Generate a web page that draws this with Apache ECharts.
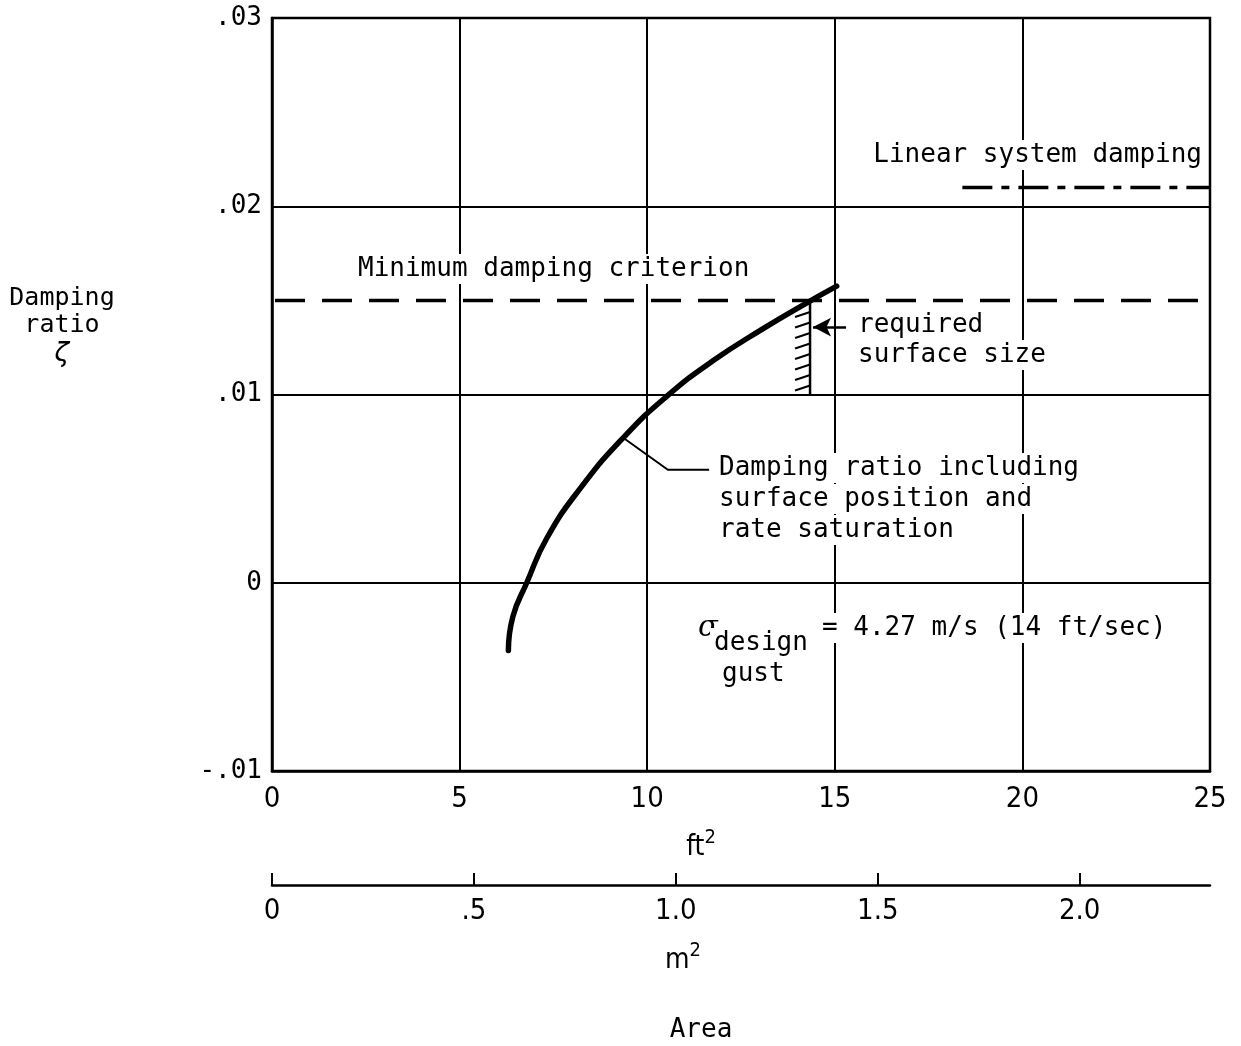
<!DOCTYPE html>
<html>
<head>
<meta charset="utf-8">
<script src="https://cdn.jsdelivr.net/npm/echarts@6/dist/echarts.min.js"></script>
<style>
  html, body { margin: 0; padding: 0; background: #fff; }
  #chart { width: 1241px; height: 1046px; }
</style>
</head>
<body>
<div id="chart"></div>
<script>
// curve (ft^2, damping ratio)
const curveX = [6.30, 6.42, 6.79, 7.32, 8.21, 9.36, 10.52, 11.76, 13.09, 14.21, 15.05]
const curveY = [-0.0036, -0.0018, 0.0, 0.00235, 0.0050, 0.0077, 0.0099, 0.0118, 0.0135, 0.01482, 0.01576]

const minDamping = 0.015
const linearDamping = 0.021
const linearStartX = 18.4
const requiredX = 14.34
const requiredYRange = [0.0100, 0.0149]

const leaderX = [9.36, 10.55, 11.65]
const leaderY = [0.0077, 0.0060, 0.0060]
const arrowFrom = [15.3, 0.01358]
const arrowTo = [14.42, 0.01358]

const ftTicks = [0, 5, 10, 15, 20, 25]
const yTickLabels = { '-0.01': '-.01', '0': '0', '0.01': '.01', '0.02': '.02', '0.03': '.03' }
const m2Ticks = [0, 0.5, 1, 1.5, 2]
const m2Labels = ['0', '.5', '1.0', '1.5', '2.0']
const FT2_PER_M2 = 10.7639

const MONO = '"DejaVu Sans Mono", "Liberation Mono", monospace'
const NARROW = '"Liberation Sans Narrow", "DejaVu Sans Condensed", "Roboto", sans-serif'

const chart = echarts.init(document.getElementById('chart'), null, { renderer: 'canvas' })

function txt(x, y, text, opts) {
  opts = opts || {}
  return {
    type: 'text',
    x: x,
    y: y,
    z: 100,
    style: Object.assign({
      text: text,
      font: (opts.size || 26) + 'px ' + MONO,
      fill: '#000',
      textAlign: opts.align || 'left',
      textVerticalAlign: 'middle',
      backgroundColor: opts.bg === false ? null : '#fff',
      padding: opts.bg === false ? 0 : [2, 4]
    }, opts.style || {})
  }
}

const option = {
  animation: false,
  backgroundColor: '#fff',
  grid: {
    left: 272,
    top: 18,
    width: 938,
    height: 753,
    show: true,
    borderColor: '#000',
    borderWidth: 2.5,
    backgroundColor: 'transparent'
  },
  xAxis: [{
    type: 'value',
    min: 0,
    max: 25,
    interval: 5,
    axisLine: { show: true, onZero: false, lineStyle: { color: '#000', width: 2.5 } },
    axisTick: { show: false },
    splitLine: { show: true, lineStyle: { color: '#000', width: 2 } },
    axisLabel: {
      margin: 14,
      color: '#000',
      fontFamily: NARROW,
      fontSize: 29,
      customValues: ftTicks,
      formatter: v => String(v)
    }
  }, {
    type: 'value',
    position: 'bottom',
    offset: 114,
    min: 0,
    max: 25 / FT2_PER_M2,
    axisLine: { show: true, onZero: false, lineStyle: { color: '#000', width: 2.5 } },
    axisTick: { show: true, inside: true, length: 12, lineStyle: { color: '#000', width: 2 }, customValues: m2Ticks },
    splitLine: { show: false },
    axisLabel: {
      margin: 12,
      color: '#000',
      fontFamily: NARROW,
      fontSize: 29,
      customValues: m2Ticks,
      formatter: v => {
        const i = m2Ticks.findIndex(t => Math.abs(t - v) < 1e-6)
        return i >= 0 ? m2Labels[i] : ''
      }
    }
  }],
  yAxis: {
    type: 'value',
    min: -0.01,
    max: 0.03,
    interval: 0.01,
    axisLine: { show: true, onZero: false, lineStyle: { color: '#000', width: 2.5 } },
    axisTick: { show: false },
    splitLine: { show: true, lineStyle: { color: '#000', width: 2 } },
    axisLabel: {
      margin: 10,
      color: '#000',
      fontFamily: MONO,
      fontSize: 26,
      formatter: v => yTickLabels[String(Math.round(v * 100) / 100)] || ''
    }
  },
  series: [{
    name: 'Damping ratio',
    type: 'line',
    data: curveX.map((x, i) => [x, curveY[i]]),
    smooth: 0.5,
    symbol: 'none',
    lineStyle: { color: '#000', width: 5.5, cap: 'round' },
    z: 5
  }, {
    name: 'Minimum damping criterion',
    type: 'line',
    data: [[0, minDamping], [25, minDamping]],
    symbol: 'none',
    lineStyle: { color: '#000', width: 3.5, type: [30, 17], dashOffset: -3 },
    z: 4
  }, {
    name: 'Linear system damping',
    type: 'line',
    data: [[linearStartX, linearDamping], [25, linearDamping]],
    symbol: 'none',
    lineStyle: { color: '#000', width: 3.5, type: [30, 9, 8, 9] },
    z: 4
  }, {
    name: 'Leader',
    type: 'line',
    data: leaderX.map((x, i) => [x, leaderY[i]]),
    symbol: 'none',
    lineStyle: { color: '#000', width: 2 },
    z: 4,
    markLine: {
      silent: true,
      symbol: ['none', 'arrow'],
      symbolSize: [14, 18],
      label: { show: false },
      lineStyle: { color: '#000', width: 2.5, type: 'solid' },
      data: [[{ coord: arrowFrom }, { coord: arrowTo }]]
    }
  }, {
    name: 'Required surface size',
    type: 'custom',
    data: [[requiredX, requiredYRange[0], requiredYRange[1]]],
    z: 4,
    renderItem: (params, api) => {
      const top = api.coord([api.value(0), api.value(2)])
      const bot = api.coord([api.value(0), api.value(1)])
      const children = [{
        type: 'line',
        shape: { x1: top[0], y1: top[1], x2: bot[0], y2: bot[1] },
        style: { stroke: '#000', lineWidth: 2.5 }
      }]
      for (let y = bot[1] - 4; y > top[1] + 6; y -= 10.5) {
        children.push({
          type: 'line',
          shape: { x1: top[0] - 15, y1: y, x2: top[0], y2: y - 5 },
          style: { stroke: '#000', lineWidth: 2 }
        })
      }
      return { type: 'group', children: children }
    }
  }],
  graphic: [
    txt(62, 298, 'Damping', { size: 25, align: 'center', bg: false }),
    txt(62, 325, 'ratio', { size: 25, align: 'center', bg: false }),
    txt(62, 354, 'ζ', { size: 27, align: 'center', bg: false, style: { font: 'italic 27px ' + MONO } }),
    txt(1206, 155, 'Linear system damping', { align: 'right' }),
    txt(354, 269, 'Minimum damping criterion'),
    txt(854, 325, 'required'),
    txt(854, 355, 'surface size'),
    txt(715, 468, 'Damping ratio including'),
    txt(715, 499, 'surface position and'),
    txt(715, 530, 'rate saturation'),
    txt(694, 628, 'σ', { size: 28, style: { font: 'italic 29px "DejaVu Serif", serif' } }),
    txt(710, 643, 'design', { size: 26 }),
    txt(818, 628, '= 4.27 m/s (14 ft/sec)', { size: 26 }),
    txt(718, 674, 'gust', { size: 26 }),
    {
      type: 'text', x: 701, y: 845, z: 100,
      style: {
        text: '{b|ft}{s|2}',
        textAlign: 'center', textVerticalAlign: 'middle',
        rich: {
          b: { font: '28px ' + NARROW, fill: '#000', verticalAlign: 'bottom', lineHeight: 34 },
          s: { font: '20px ' + NARROW, fill: '#000', verticalAlign: 'top', lineHeight: 34, padding: [0, 0, 14, 0] }
        }
      }
    },
    {
      type: 'text', x: 683, y: 958, z: 100,
      style: {
        text: '{b|m}{s|2}',
        textAlign: 'center', textVerticalAlign: 'middle',
        rich: {
          b: { font: '28px ' + NARROW, fill: '#000', verticalAlign: 'bottom', lineHeight: 34 },
          s: { font: '20px ' + NARROW, fill: '#000', verticalAlign: 'top', lineHeight: 34, padding: [0, 0, 14, 0] }
        }
      }
    },
    txt(701, 1030, 'Area', { size: 26, align: 'center', bg: false })
  ]
}

chart.setOption(option)
</script>
</body>
</html>
